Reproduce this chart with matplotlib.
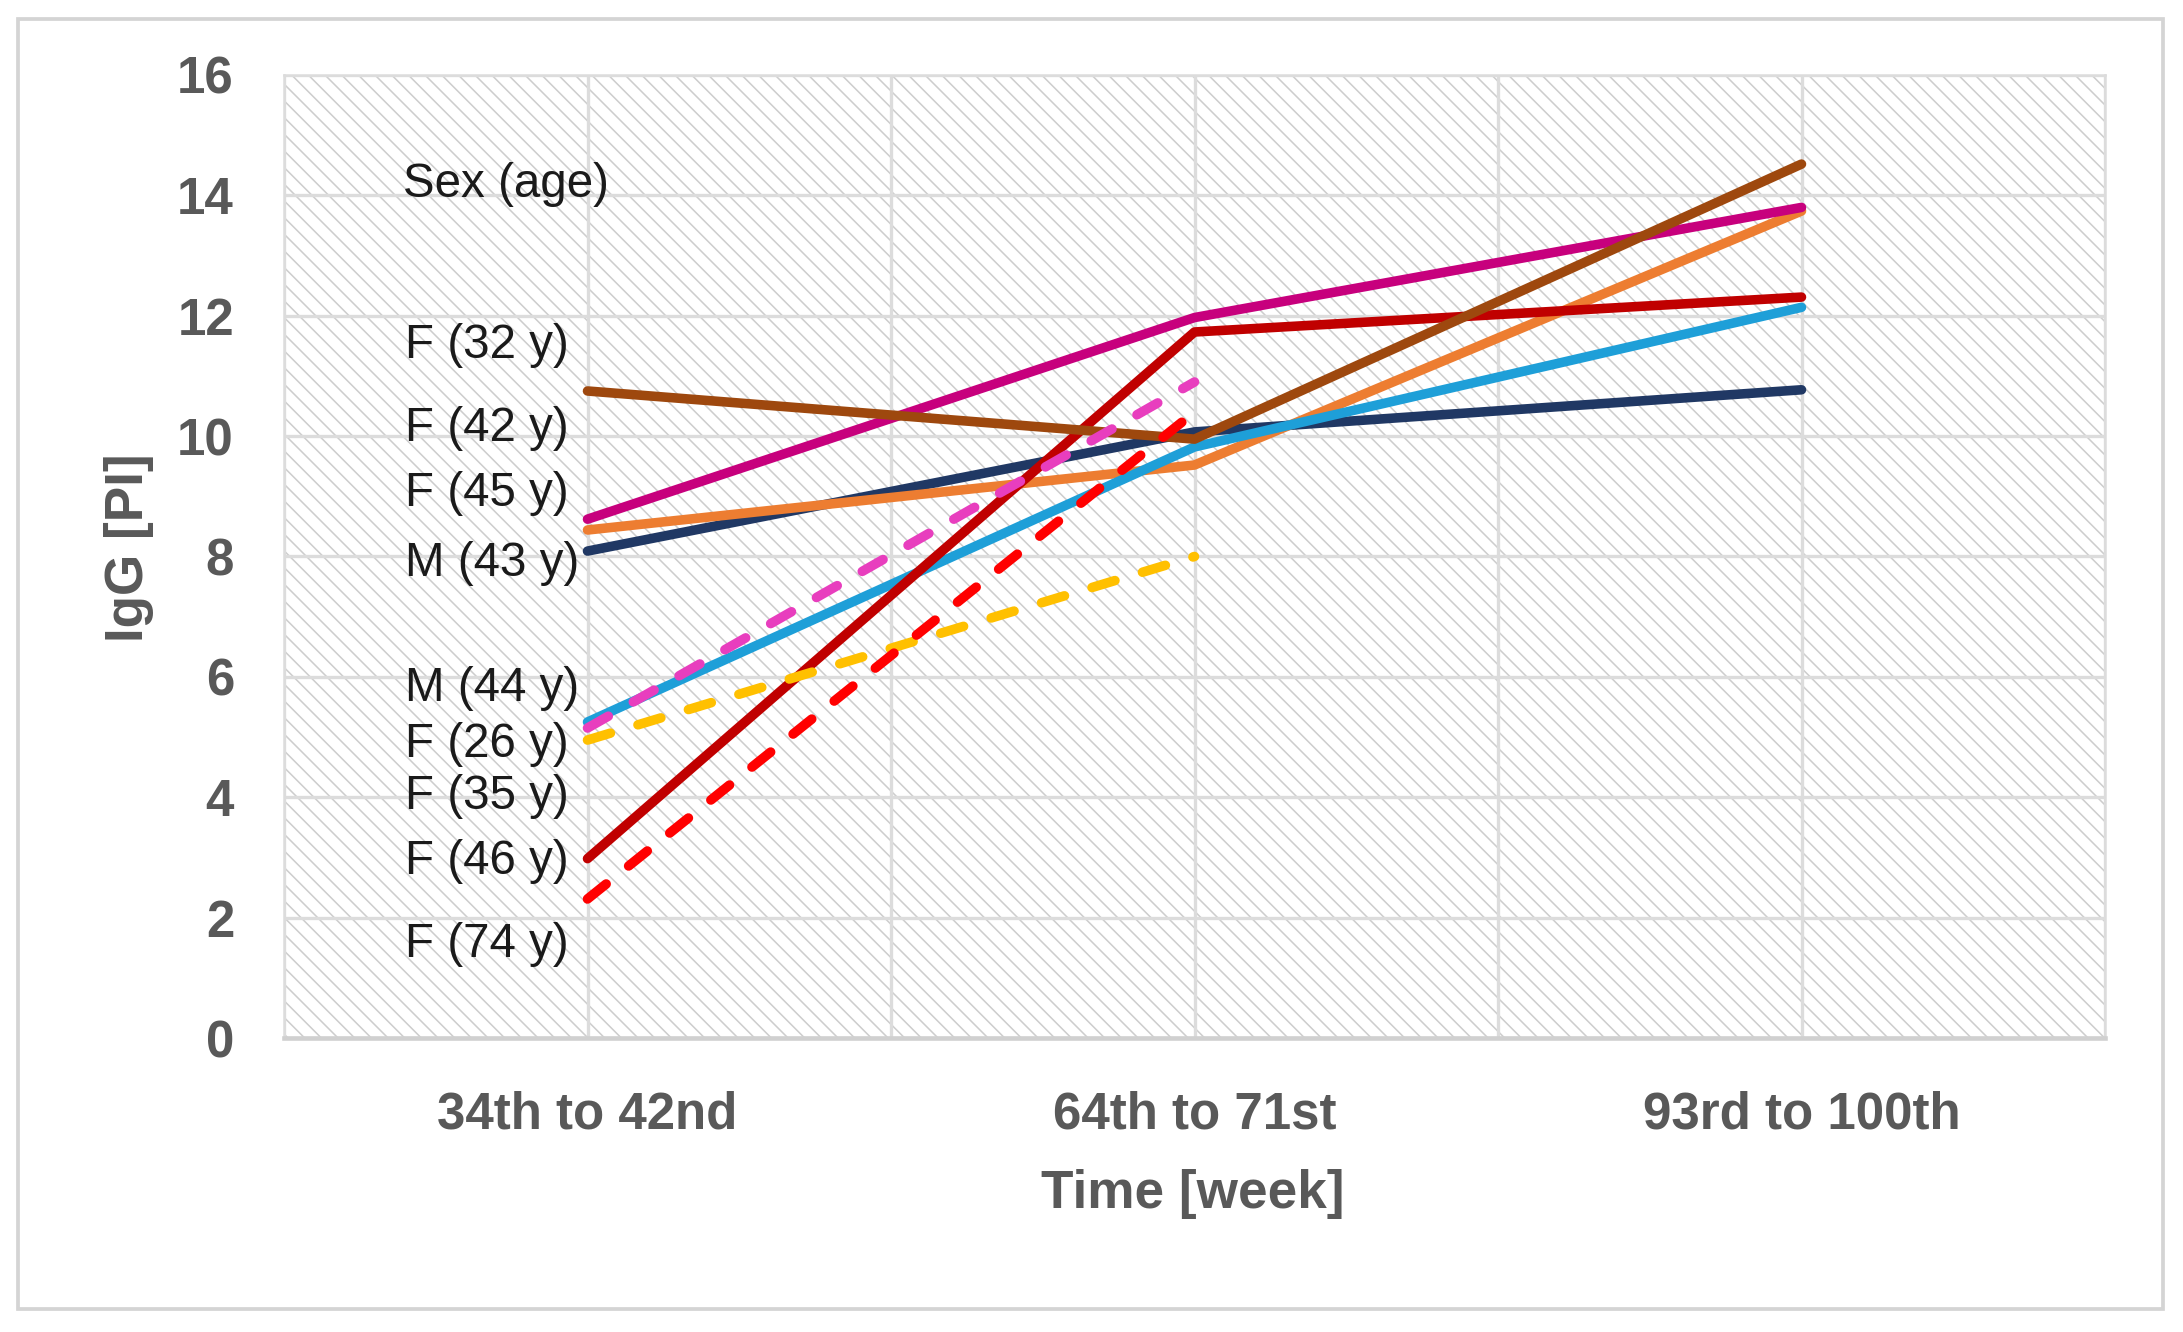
import matplotlib
matplotlib.use("Agg")
import matplotlib.pyplot as plt
from matplotlib.patches import Rectangle

# ---- data ----
periods = ["34th to 42nd", "64th to 71st", "93rd to 100th"]
f32 = [10.75, 9.95, 14.52]   # brown
f42 = [8.62, 11.97, 13.80]   # magenta
f45 = [8.44, 9.52, 13.74]    # orange
m43 = [8.09, 10.07, 10.77]   # navy
m44 = [5.25, 9.82, 12.14]    # light blue
f26 = [5.15, 10.90]          # pink dashed
f35 = [4.95, 8.00]           # yellow dashed
f46 = [2.98, 11.73, 12.31]   # dark red
f74 = [2.31, 10.40]          # red dashed

heading = "Sex (age)"
labels = ["F (32 y)", "F (42 y)", "F (45 y)", "M (43 y)", "M (44 y)",
          "F (26 y)", "F (35 y)", "F (46 y)", "F (74 y)"]
label_y = [11.51, 10.13, 9.04, 7.88, 5.80, 4.88, 4.02, 2.94, 1.55]
yticks = [0, 2, 4, 6, 8, 10, 12, 14, 16]

W, H, DPI = 2183, 1332, 150
plt.rcParams["hatch.color"] = "#cdcdcd"
plt.rcParams["hatch.linewidth"] = 0.75

fig = plt.figure(figsize=(W / DPI, H / DPI), dpi=DPI)
fig.patch.set_facecolor("white")

# outer chart frame
fig.patches.append(Rectangle((18 / W, 1 - 1309 / H), (2163 - 18) / W, (1309 - 19) / H,
                             transform=fig.transFigure, fill=False,
                             edgecolor="#d4d4d4", linewidth=1.8, zorder=0))

L, R, T, B = 284, 2105, 75, 1038
ax = fig.add_axes([L / W, 1 - B / H, (R - L) / W, (B - T) / H])
ax.patch.set_facecolor("white")
ax.patch.set_hatch("\\\\\\")
ax.patch.set_edgecolor("#cdcdcd")
ax.patch.set_linewidth(0)

x = list(range(len(periods)))
ax.set_xlim(-0.5, 2.5)
ax.set_ylim(0, 16)
ax.set_yticks(yticks)
ax.set_xticks(x)
ax.set_xticklabels(periods)
ax.set_xticks([-0.5, 0.5, 1.5, 2.5], minor=True)
ax.set_axisbelow(True)
ax.grid(True, which="both", color="#dcdcdc", linewidth=1.6)
ax.tick_params(which="both", length=0)
ax.tick_params(axis="x", pad=25)
ax.tick_params(axis="y", pad=24)
for lab in ax.get_xticklabels() + ax.get_yticklabels():
    lab.set_fontfamily("Liberation Sans")
    lab.set_fontweight("bold")
    lab.set_fontsize(24.5)
    lab.set_color("#595959")
for s in ["left", "right", "top"]:
    ax.spines[s].set_color("#dcdcdc")
    ax.spines[s].set_linewidth(1.2)
ax.spines["bottom"].set_color("#d0d0d0")
ax.spines["bottom"].set_linewidth(2.2)

lw = 4.6
solid = dict(linewidth=lw, solid_capstyle="round", zorder=3)
dashed = dict(linewidth=lw, dash_capstyle="round", dashes=(2.5, 3.0), zorder=4)

ax.plot(x, m43, color="#203864", **solid)
ax.plot(x, f45, color="#ED7D31", **solid)
ax.plot(x, m44, color="#1E9FD8", **solid)
ax.plot(x, f42, color="#C7007D", **solid)
ax.plot(x, f46, color="#C00000", **solid)
ax.plot(x, f32, color="#9E480E", **solid)
ax.plot(x[:len(f35)], f35, color="#FFC000", **dashed)
ax.plot(x[:len(f74)], f74, color="#FF0000", **dashed)
ax.plot(x[:len(f26)], f26, color="#E83EBE", **dashed)

txt = dict(fontfamily="Liberation Sans", fontsize=22.8, color="#1a1a1a",
           ha="left", va="center", zorder=5)
ax.text(-0.304, 14.18, heading, **txt)
for lab, yy in zip(labels, label_y):
    ax.text(-0.300, yy, lab, **txt)

fig.text(129 / W, 1 - 548 / H, "IgG [PI]", rotation=90, ha="center", va="center",
         fontfamily="Liberation Sans", fontweight="bold", fontsize=25.5, color="#595959")
fig.text(1193 / W, 1 - 1194 / H, "Time [week]", ha="center", va="center",
         fontfamily="Liberation Sans", fontweight="bold", fontsize=25.5, color="#595959")

fig.savefig("out.png", dpi=DPI)
